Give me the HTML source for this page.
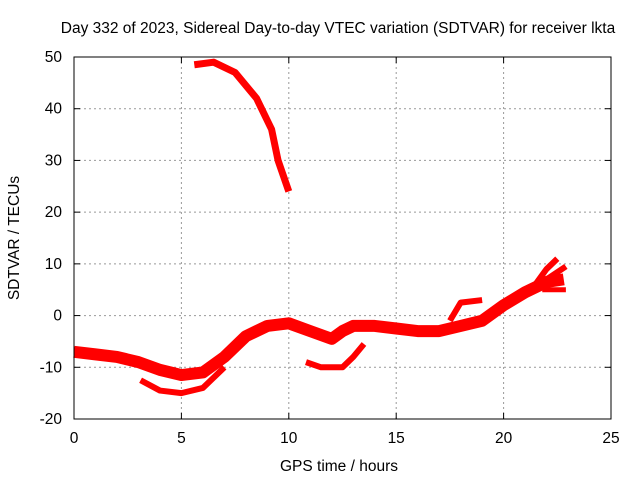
<!DOCTYPE html>
<html><head><meta charset="utf-8"><style>
body{margin:0;background:#fff}
svg text{font-family:"Liberation Sans",sans-serif;font-size:15.5px;fill:#000}
</style></head><body>
<svg width="640" height="480">
<text x="338" y="33" text-anchor="middle">Day 332 of 2023, Sidereal Day-to-day VTEC variation (SDTVAR) for receiver lkta</text>
<g id="grid"></g>
<g id="ticks"></g>
<g id="series"></g>
<rect x="74" y="57" width="537" height="362" fill="none" stroke="#000"/>
<text x="339" y="471" text-anchor="middle">GPS time / hours</text>
<text transform="translate(19,238) rotate(-90)" text-anchor="middle">SDTVAR / TECUs</text>
</svg>
<script>
const xTicks=[0,5,10,15,20,25];
const yTicks=[-20,-10,0,10,20,30,40,50];
const segMain=[[0,-7],[1,-7.5],[2,-8],[3,-9],[4,-10.5],[5,-11.5],[6,-11],[7,-8],[8,-4],[9,-2],[10,-1.5],[11,-3],[12,-4.5],[12.5,-3],[13,-2],[14,-2],[15,-2.5],[16,-3],[17,-3],[18,-2],[19,-1],[20,2],[21,4.5],[22,6.5],[22.8,7]];
const segUpper=[[21.3,5],[22,9],[22.5,11]];
const segBranch1=[[22,7],[22.9,9.5]];
const segBranch2=[[21.8,5],[22.9,5]];
const segBranch3=[[17.5,-1],[18,2.5],[19,3]];
const segLow1=[[3.1,-12.5],[4,-14.5],[5,-15],[6,-14],[7,-10]];
const segLow2=[[10.8,-9],[11.5,-10],[12.5,-10],[13,-8],[13.5,-5.5]];
const segTop=[[5.6,48.5],[6.5,49],[7.5,47],[8.5,42],[9.2,36],[9.5,30],[10,24]];
const X=v=>74+v*537/25, Y=v=>419-(v+20)*362/70;
const NS="http://www.w3.org/2000/svg";
function mk(t,a,p){const e=document.createElementNS(NS,t);for(const k in a)e.setAttribute(k,a[k]);p.appendChild(e);return e;}
const grid=document.getElementById('grid'),ticks=document.getElementById('ticks'),ser=document.getElementById('series');
xTicks.forEach(v=>{
 if(v>0&&v<25){const l=mk('line',{x1:X(v),x2:X(v),y1:57,y2:419,stroke:'#999','stroke-dasharray':'2,3'},grid);
 
 }
 mk('line',{x1:X(v),x2:X(v),y1:419,y2:413,stroke:'#000'},ticks);
 mk('line',{x1:X(v),x2:X(v),y1:57,y2:63,stroke:'#000'},ticks);
 const t=mk('text',{x:X(v),y:443,'text-anchor':'middle'},ticks);t.textContent=v;
 
 
});
yTicks.forEach(v=>{
 if(v>-20&&v<50){const l=mk('line',{x1:74,x2:611,y1:Y(v),y2:Y(v),stroke:'#999','stroke-dasharray':'2,3'},grid);
 
 }
 mk('line',{x1:74,x2:80,y1:Y(v),y2:Y(v),stroke:'#000'},ticks);
 mk('line',{x1:605,x2:611,y1:Y(v),y2:Y(v),stroke:'#000'},ticks);
 const t=mk('text',{x:62,y:Y(v)+5,'text-anchor':'end'},ticks);t.textContent=v;
 
 
});
[[segMain,12,'main-trace'],[segUpper,6,'upper-branch'],[segBranch1,6,'branch-1'],[segBranch2,5,'branch-2'],[segBranch3,6,'branch-3'],[segLow1,6,'low-arc-1'],[segLow2,6,'low-arc-2'],[segTop,7,'top-trace']].forEach(([d,w,n])=>{
 const p=mk('polyline',{points:d.map(q=>X(q[0])+','+Y(q[1])).join(' '),fill:'none',stroke:'#f00','stroke-width':w,'stroke-linejoin':'round','stroke-linecap':'butt'},ser);
 
 
});
</script>
</body></html>
